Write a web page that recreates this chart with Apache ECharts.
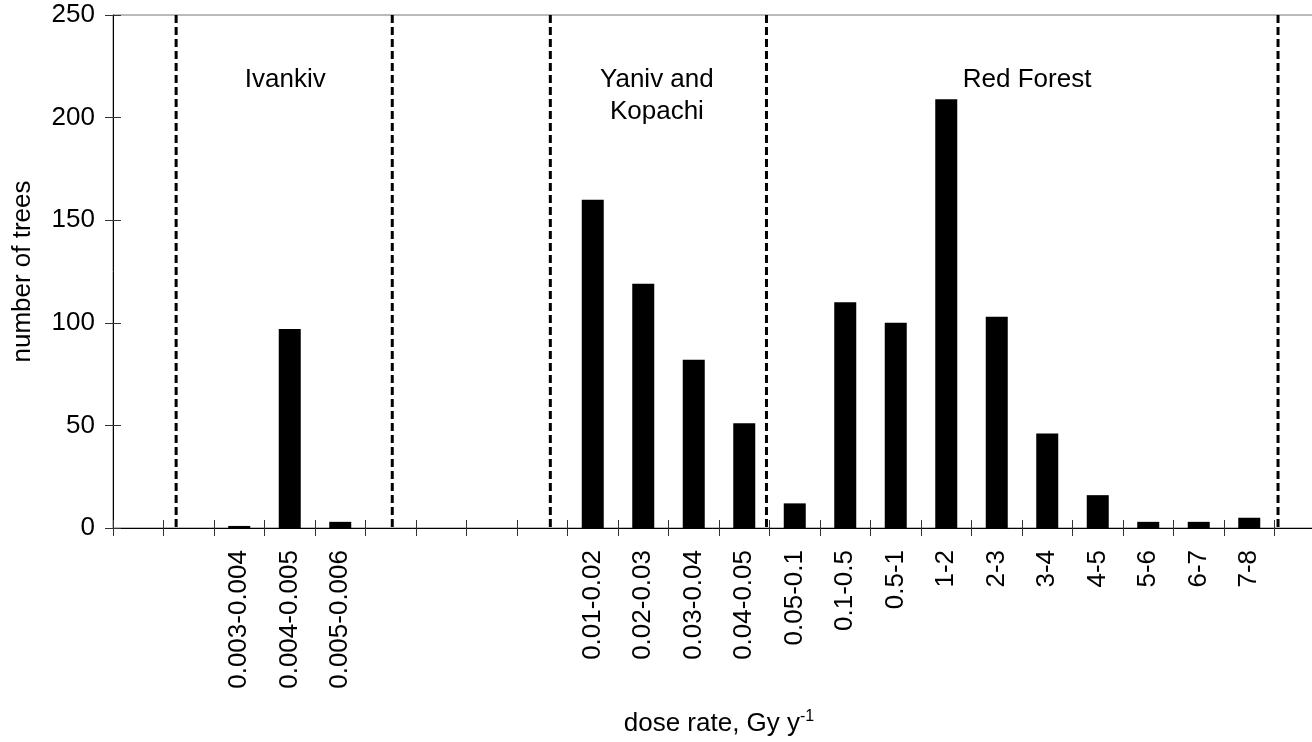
<!DOCTYPE html>
<html>
<head>
<meta charset="utf-8">
<title>Number of trees by dose rate</title>
<script src="https://cdn.jsdelivr.net/npm/echarts@6/dist/echarts.min.js"></script>
<style>
  html, body { margin: 0; padding: 0; background: #fff; }
  #chart { width: 1312px; height: 742px; }
</style>
</head>
<body>
<div id="chart"></div>
<script>
// Dose-rate classes (Gy per year); blank slots are the gaps between sites
const categories = [
  '', '', '0.003-0.004', '0.004-0.005', '0.005-0.006',
  '', '', '', '',
  '0.01-0.02', '0.02-0.03', '0.03-0.04', '0.04-0.05',
  '0.05-0.1', '0.1-0.5', '0.5-1', '1-2', '2-3', '3-4', '4-5',
  '5-6', '6-7', '7-8', ''
];

// Number of trees in each dose-rate class
const treeCounts = [
  null, null, 1, 97, 3,
  null, null, null, null,
  160, 119, 82, 51,
  12, 110, 100, 209, 103, 46, 16,
  3, 3, 5, null
];

// Site boundaries, in category-slot units along the x axis
const siteBoundaries = [1.25, 5.53, 8.66, 12.94, 23.07];

// Site names and the slot positions they are centred on
const siteNames = ['Ivankiv', 'Yaniv and\nKopachi', 'Red Forest'];
const siteCenters = [3.41, 10.77, 18.1];
const siteLabelLevel = 226;

const yTicks = { min: 0, max: 250, interval: 50 };

const FONT = "'Liberation Sans', Arial, Helvetica, sans-serif";
const chart = echarts.init(document.getElementById('chart'), null, { renderer: 'canvas' });

const tickColor = '#333';

chart.setOption({
  animation: false,
  backgroundColor: '#fff',
  textStyle: { fontFamily: FONT, color: '#000' },
  grid: {
    left: 113,
    top: 15,
    height: 513,
    width: 50.5 * categories.length,
    outerBoundsMode: 'none',
    containLabel: false,
    show: true,
    borderColor: '#777',
    borderWidth: 1,
    backgroundColor: 'transparent'
  },
  xAxis: [
    {
      type: 'category',
      position: 'bottom',
      data: categories,
      name: '{a|dose rate, Gy y}{s|-1}',
      nameLocation: 'middle',
      nameGap: 181,
      nameTextStyle: {
        rich: {
          a: { fontSize: 26, fontFamily: FONT, color: '#000', lineHeight: 30 },
          s: { fontSize: 16, fontFamily: FONT, color: '#000', lineHeight: 30, verticalAlign: 'top', padding: [0, 0, 12, 0] }
        }
      },
      axisLine: { show: true, lineStyle: { color: '#000', width: 1 } },
      axisTick: { show: true, alignWithLabel: false, interval: 0, length: 8, lineStyle: { color: tickColor } },
      axisLabel: {
        interval: 0,
        rotate: 90,
        margin: 22,
        fontSize: 26,
        fontFamily: FONT,
        color: '#000'
      },
      splitLine: { show: false }
    },
    {
      // inner half of the crossing tick marks
      type: 'category',
      position: 'bottom',
      data: categories,
      axisLine: { show: false },
      axisTick: { show: true, inside: true, interval: 0, length: 8, lineStyle: { color: tickColor } },
      axisLabel: { show: false },
      splitLine: { show: false }
    },
    {
      // continuous slot scale used to place site boundaries and names
      type: 'value',
      position: 'bottom',
      show: false,
      min: 0,
      max: categories.length
    }
  ],
  yAxis: [
    {
      type: 'value',
      position: 'left',
      min: yTicks.min,
      max: yTicks.max,
      interval: yTicks.interval,
      name: 'number of trees',
      nameLocation: 'middle',
      nameGap: 77,
      nameTextStyle: { fontSize: 26, fontFamily: FONT, color: '#000' },
      axisLine: { show: true, lineStyle: { color: '#000', width: 1 } },
      axisTick: { show: true, length: 8, lineStyle: { color: tickColor } },
      axisLabel: { margin: 18, fontSize: 26, fontFamily: FONT, color: '#000' },
      splitLine: { show: false }
    },
    {
      type: 'value',
      position: 'left',
      min: yTicks.min,
      max: yTicks.max,
      interval: yTicks.interval,
      axisLine: { show: false },
      axisTick: { show: true, inside: true, length: 8, lineStyle: { color: tickColor } },
      axisLabel: { show: false },
      splitLine: { show: false }
    }
  ],
  series: [
    {
      type: 'bar',
      xAxisIndex: 0,
      yAxisIndex: 0,
      data: treeCounts,
      barWidth: 22,
      itemStyle: { color: '#000' }
    },
    {
      // dashed site boundaries
      type: 'custom',
      xAxisIndex: 2,
      yAxisIndex: 0,
      data: siteBoundaries.map(v => [v, 0]),
      renderItem: function (params, api) {
        const x = api.value(0);
        const top = api.coord([x, yTicks.max]);
        const bottom = api.coord([x, yTicks.min]);
        return {
          type: 'line',
          shape: { x1: top[0], y1: top[1], x2: bottom[0], y2: bottom[1] },
          style: { stroke: '#000', lineWidth: 3, lineDash: [8, 4] }
        };
      },
      silent: true,
      z: 3
    },
    {
      // site names
      type: 'custom',
      xAxisIndex: 2,
      yAxisIndex: 0,
      data: siteCenters.map((c, i) => [c, siteLabelLevel, i]),
      renderItem: function (params, api) {
        const p = api.coord([api.value(0), api.value(1)]);
        return {
          type: 'text',
          x: p[0],
          y: p[1],
          style: {
            text: siteNames[api.value(2)],
            align: 'center',
            verticalAlign: 'top',
            fontSize: 26,
            fontFamily: FONT,
            lineHeight: 32,
            fill: '#000'
          }
        };
      },
      silent: true,
      z: 4
    }
  ]
});
</script>
</body>
</html>
